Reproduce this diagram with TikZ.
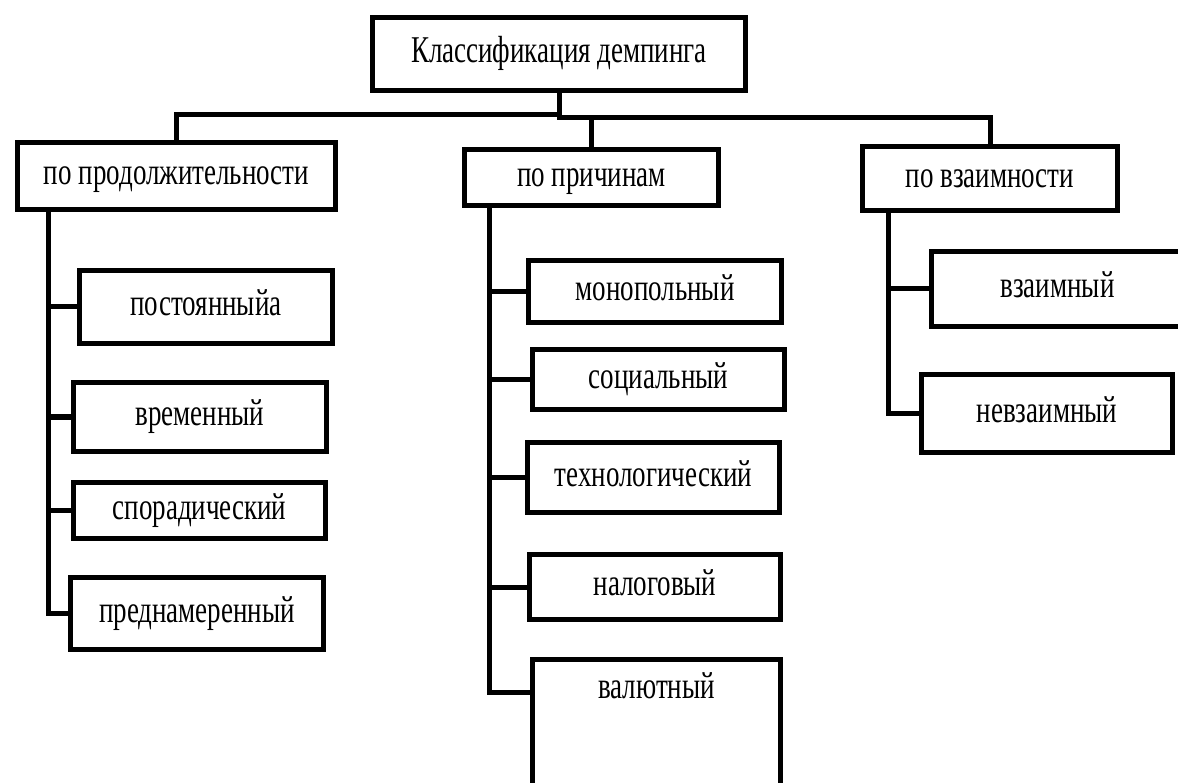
\documentclass[tikz,border=0pt]{standalone}
\usepackage{fontspec}
\usepackage{graphicx}
\setmainfont{Liberation Serif}
\newcommand{\tallText}[1]{\scalebox{1}[1.4]{#1}}
\begin{document}
\begin{tikzpicture}[x=1pt,y=-1pt,
  box/.style={draw, line width=5.5pt, inner sep=0pt, text height=20pt, text depth=2.6pt,
              font=\fontsize{27}{32}\selectfont, fill=white},
  link/.style={line width=5pt, line join=miter}]
\useasboundingbox (0,0) rectangle (1178,783);
% top
\node[box, minimum width=373pt, minimum height=73pt] (top) at (559,54) {\tallText{Классификация демпинга}};
% level 1
\node[box, minimum width=318pt, minimum height=67pt] (b1) at (176.5,176) {\tallText{по продолжительности}};
\node[box, minimum width=254pt, minimum height=56pt] (b2) at (591.5,177.5) {\tallText{по причинам}};
\node[box, minimum width=255pt, minimum height=64pt] (b3) at (990,178.5) {\tallText{по взаимности}};
% left children
\node[box, minimum width=253pt, minimum height=73pt] (c1) at (206,307) {\tallText{постоянныйа}};
\node[box, minimum width=253pt, minimum height=69pt] (c2) at (200,417) {\tallText{временный}};
\node[box, minimum width=252pt, minimum height=56pt] (c3) at (199.5,510.5) {\tallText{спорадический}};
\node[box, minimum width=253pt, minimum height=72pt] (c4) at (197,613.5) {\tallText{преднамеренный}};
% middle children
\node[box, minimum width=253pt, minimum height=62pt] (m1) at (655,291.5) {\tallText{монопольный}};
\node[box, minimum width=252pt, minimum height=60pt] (m2) at (658.5,379.5) {\tallText{социальный}};
\node[box, minimum width=252pt, minimum height=70pt] (m3) at (653.5,477.5) {\tallText{технологический}};
\node[box, minimum width=251pt, minimum height=65pt] (m4) at (655,587) {\tallText{налоговый}};
\node[box, minimum width=248pt, text height=39.2pt, text depth=91.3pt, anchor=base] (m5) at (656.5,698.7) {\tallText{валютный}};
% right children
\node[box, minimum width=252pt, minimum height=75pt] (r1) at (1057.5,289) {\tallText{взаимный}};
\node[box, minimum width=251pt, minimum height=78pt] (r2) at (1047,413.5) {\tallText{невзаимный}};
% spine coordinates
\coordinate (j) at (559.5,118);
\coordinate (jl) at (559.5,115);
\coordinate (v1) at (48,0);
\coordinate (v2) at (489,0);
\coordinate (v3) at (888,0);
% top connectors
\draw[link] (top.south -| j) -- (j) -- (j -| b3.north) -- (b3.north);
\draw[link] (jl) -- (jl -| b1.north) -- (b1.north);
\draw[link] (j -| b2.north) -- (b2.north);
% left spine
\draw[link] (b1.south -| v1) -- (v1 |- c4.west) -- (c4.west);
\draw[link] (v1 |- c1.west) -- (c1.west);
\draw[link] (v1 |- c2.west) -- (c2.west);
\draw[link] (v1 |- c3.west) -- (c3.west);
% middle spine
\draw[link] (b2.south -| v2) -- (v2 |- 0,692) -- (m5.west |- 0,692);
\draw[link] (v2 |- m1.west) -- (m1.west);
\draw[link] (v2 |- m2.west) -- (m2.west);
\draw[link] (v2 |- m3.west) -- (m3.west);
\draw[link] (v2 |- m4.west) -- (m4.west);
% right spine
\draw[link] (b3.south -| v3) -- (v3 |- r2.west) -- (r2.west);
\draw[link] (v3 |- r1.west) -- (r1.west);
\end{tikzpicture}
\end{document}
